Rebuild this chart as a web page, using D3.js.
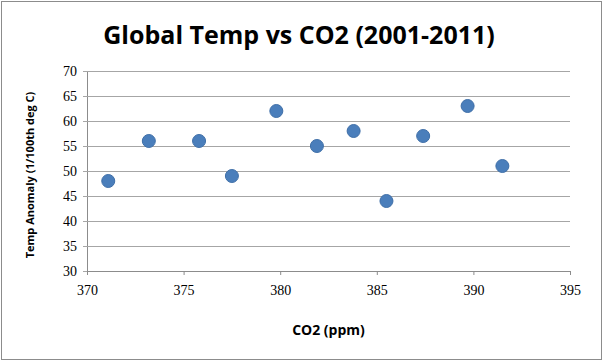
<!DOCTYPE html>
<html>
<head>
<meta charset="utf-8">
<script src="https://cdn.jsdelivr.net/npm/d3@7"></script>
<style>
  body { margin: 0; background: #fff; }
</style>
</head>
<body>
<div id="container"></div>
<script>
/* DATA */
const co2 = [371.1, 373.2, 375.8, 377.5, 379.8, 381.9, 383.8, 385.5, 387.4, 389.7, 391.5];
const temp = [48, 56, 56, 49, 62, 55, 58, 44, 57, 63, 51];
const xTicks = [370, 375, 380, 385, 390, 395];
const yTicks = [30, 35, 40, 45, 50, 55, 60, 65, 70];

/* CONSTANTS */
const width = 604, height = 363;
const margin = { top: 71, bottom: 92, left: 87, right: 34 };

const svg = d3.select("#container")
  .append("svg")
  .attr("width", width)
  .attr("height", height);

// outer frame
svg.append("rect")
  .attr("x", 1.5).attr("y", 1.5)
  .attr("width", width - 4).attr("height", height - 5)
  .attr("fill", "#fff")
  .attr("stroke", "#8c8c8c");

/* SCALES */
const xScale = d3.scaleLinear()
  .domain([370, 395])
  .range([margin.left, width - margin.right]);

const yScale = d3.scaleLinear()
  .domain([30, 70])
  .range([height - margin.bottom, margin.top]);

// gridlines + left ticks
const yAxis = d3.axisLeft(yScale)
  .tickValues(yTicks)
  .tickSize(-(width - margin.right - margin.left))
  .tickSizeOuter(0)
  .tickPadding(10);

const gy = svg.append("g")
  .attr("transform", `translate(${margin.left},0)`)
  .call(yAxis);
gy.select(".domain").attr("stroke", "#8c8c8c");
gy.selectAll(".tick line")
  .attr("stroke", "#a6a6a6")
  .attr("x1", -4);
gy.selectAll(".tick text")
  .attr("font-family", "Liberation Serif, serif")
  .attr("font-size", 14)
  .attr("fill", "#000");

const xAxis = d3.axisBottom(xScale)
  .tickValues(xTicks)
  .tickSize(4)
  .tickSizeOuter(0)
  .tickPadding(10);

const gx = svg.append("g")
  .attr("transform", `translate(0,${height - margin.bottom})`)
  .call(xAxis);
gx.select(".domain").attr("stroke", "#8c8c8c");
gx.selectAll(".tick line").attr("stroke", "#8c8c8c");
gx.selectAll(".tick text")
  .attr("font-family", "Liberation Serif, serif")
  .attr("font-size", 14)
  .attr("fill", "#000");

/* POINTS */
const data = co2.map((c, i) => ({ co2: c, temp: temp[i] }));
svg.selectAll("circle.dot")
  .data(data)
  .join("circle")
  .attr("class", "dot")
  .attr("cx", d => xScale(d.co2))
  .attr("cy", d => yScale(d.temp))
  .attr("r", 6.5)
  .attr("fill", "#4a7ebb")
  .attr("stroke", "#3f6fa8")
  .attr("stroke-width", 1);

/* TEXT */
const plotMid = (xScale.range()[0] + xScale.range()[1]) / 2;

svg.append("text")
  .attr("x", 299).attr("y", 44)
  .attr("text-anchor", "middle")
  .attr("font-family", "Open Sans, sans-serif")
  .attr("font-weight", "bold")
  .attr("font-size", 25)
  .attr("fill", "#000")
  .text("Global Temp vs CO2 (2001-2011)");

svg.append("text")
  .attr("x", plotMid).attr("y", 335)
  .attr("text-anchor", "middle")
  .attr("font-family", "Open Sans, sans-serif")
  .attr("font-weight", "bold")
  .attr("font-size", 14)
  .attr("fill", "#000")
  .text("CO2 (ppm)");

svg.append("text")
  .attr("transform", "translate(34,175) rotate(-90)")
  .attr("text-anchor", "middle")
  .attr("font-family", "Open Sans, sans-serif")
  .attr("font-weight", "bold")
  .attr("font-size", 11)
  .attr("fill", "#000")
  .text("Temp Anomaly (1/100th deg C)");
</script>
</body>
</html>
